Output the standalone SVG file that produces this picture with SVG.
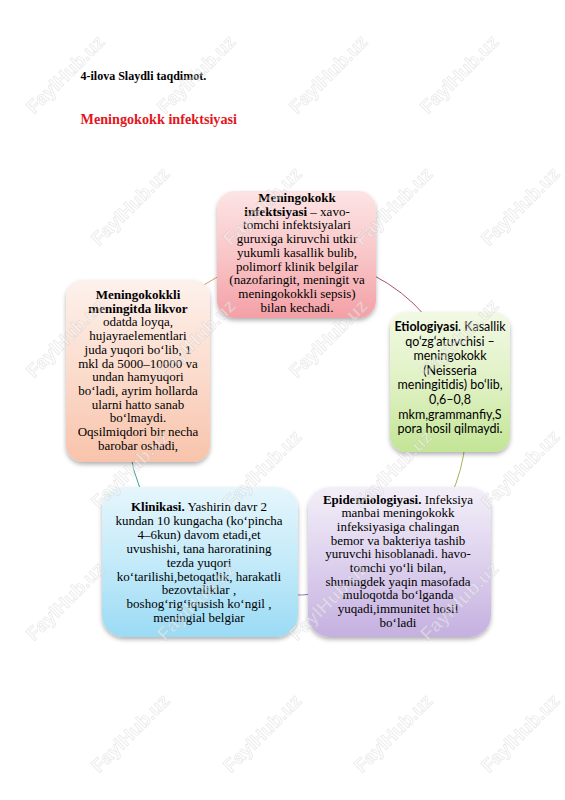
<svg xmlns="http://www.w3.org/2000/svg" width="565" height="800" viewBox="0 0 565 800">
<defs>
<linearGradient id="gPink" x1="0" y1="0" x2="0" y2="1"><stop offset="0" stop-color="#fde4e4"/><stop offset="0.5" stop-color="#f9c6c8"/><stop offset="1" stop-color="#f3a0a6"/></linearGradient>
<linearGradient id="gGreen" x1="0" y1="0" x2="0" y2="1"><stop offset="0" stop-color="#f2f9e4"/><stop offset="0.5" stop-color="#e0f1c4"/><stop offset="1" stop-color="#c3e596"/></linearGradient>
<linearGradient id="gPeach" x1="0" y1="0" x2="0" y2="1"><stop offset="0" stop-color="#fdf1ec"/><stop offset="0.5" stop-color="#fbdccd"/><stop offset="1" stop-color="#f8c3ab"/></linearGradient>
<linearGradient id="gBlue" x1="0" y1="0" x2="0" y2="1"><stop offset="0" stop-color="#e6f6fc"/><stop offset="0.5" stop-color="#c4eaf9"/><stop offset="1" stop-color="#9bdbf5"/></linearGradient>
<linearGradient id="gPurple" x1="0" y1="0" x2="0" y2="1"><stop offset="0" stop-color="#f3eff8"/><stop offset="0.5" stop-color="#ddd1ee"/><stop offset="1" stop-color="#c5b0e0"/></linearGradient>
<filter id="sh" x="-10%" y="-10%" width="120%" height="125%"><feDropShadow dx="0" dy="2.5" stdDeviation="2" flood-color="#000" flood-opacity="0.3"/></filter>
</defs>
<style>
.serif{font-family:"Liberation Serif","Times New Roman",serif;font-size:13px;fill:#000;text-anchor:middle}
.sans{font-family:Lato,"Noto Sans",sans-serif;font-size:12.5px;fill:#000;text-anchor:middle}
.b{font-weight:bold}
.box{filter:url(#sh)}
.conn{fill:none;stroke-width:1}
.wm{font-family:"Liberation Sans",Arial,sans-serif;font-weight:bold;font-size:19px;fill:#fafafa;stroke:#c4c4c4;stroke-width:0.7;text-anchor:middle}
</style>
<rect width="565" height="800" fill="#fff"/>
<text x="80.5" y="79.5" font-family="Liberation Serif, serif" font-weight="bold" font-size="12">4-ilova Slaydli taqdimot.</text>
<text x="80.5" y="123.5" font-family="Liberation Serif, serif" font-weight="bold" font-size="14.2" fill="#e3161e">Meningokokk infektsiyasi</text>
<g id="connectors">
<path class="conn" stroke="#b0506a" d="M326.3,259.6 A169,169 0 0 1 435.4,329.1"/>
<path class="conn" stroke="#a9b25a" d="M465.4,440.7 A169,169 0 0 1 450.2,497.4"/>
<path class="conn" stroke="#8c7cb6" d="M320.5,593.4 A169,169 0 0 1 282.3,594.4"/>
<path class="conn" stroke="#3f9fa6" d="M140.3,489.3 A169,169 0 0 1 129.6,449.5"/>
<path class="conn" stroke="#dc9a6a" d="M177.5,306.5 A169,169 0 0 1 233.7,269.3"/>
</g>
<g id="node-infeksiya">
<rect class="box" x="217" y="191" width="159" height="127" rx="18" fill="url(#gPink)"/>
<text class="serif"><tspan x="297" y="202" class="b">Meningokokk</tspan><tspan x="297" y="215.7"><tspan class="b">infektsiyasi</tspan> – xavo-</tspan><tspan x="297" y="229.4">tomchi infektsiyalari</tspan><tspan x="297" y="243.1">guruxiga kiruvchi utkir</tspan><tspan x="297" y="256.8">yukumli kasallik bulib,</tspan><tspan x="297" y="270.5">polimorf klinik belgilar</tspan><tspan x="297" y="284.2">(nazofaringit, meningit va</tspan><tspan x="297" y="297.9">meningokokkli sepsis)</tspan><tspan x="297" y="311.6">bilan kechadi.</tspan></text>
</g>
<g id="node-etiologiya">
<rect class="box" x="390" y="312" width="120" height="140" rx="16" fill="url(#gGreen)"/>
<text class="sans"><tspan x="450" y="331"><tspan class="b">Etiologiyasi</tspan>. Kasallik</tspan><tspan x="450" y="345.6">qo‘zg‘atuvchisi –</tspan><tspan x="450" y="360.2">meningokokk</tspan><tspan x="450" y="374.8">(Neisseria</tspan><tspan x="450" y="389.4">meningitidis) bo‘lib,</tspan><tspan x="450" y="404">0,6–0,8</tspan><tspan x="450" y="418.6">mkm,grammanfiy,S</tspan><tspan x="450" y="433.2">pora hosil qilmaydi.</tspan></text>
</g>
<g id="node-epidemiologiya">
<rect class="box" x="308" y="487" width="183" height="150" rx="22" fill="url(#gPurple)"/>
<text class="serif"><tspan x="398" y="503.5"><tspan class="b">Epidemiologiyasi.</tspan> Infeksiya</tspan><tspan x="398" y="517.2">manbai meningokokk</tspan><tspan x="398" y="530.9">infeksiyasiga chalingan</tspan><tspan x="398" y="544.6">bemor va bakteriya tashib</tspan><tspan x="398" y="558.3">yuruvchi hisoblanadi. havo-</tspan><tspan x="398" y="572">tomchi yo‘li bilan,</tspan><tspan x="398" y="585.7">shuningdek yaqin masofada</tspan><tspan x="398" y="599.4">muloqotda bo‘lganda</tspan><tspan x="398" y="613.1">yuqadi,immunitet hosil</tspan><tspan x="398" y="626.8">bo‘ladi</tspan></text>
</g>
<g id="node-klinika">
<rect class="box" x="102" y="487" width="196" height="150" rx="22" fill="url(#gBlue)"/>
<text class="serif"><tspan x="199" y="511"><tspan class="b">Klinikasi.</tspan> Yashirin davr 2</tspan><tspan x="199" y="524.9">kundan 10 kungacha (ko‘pincha</tspan><tspan x="199" y="538.8">4–6kun) davom etadi,et</tspan><tspan x="199" y="552.7">uvushishi, tana haroratining</tspan><tspan x="199" y="566.6">tezda yuqori</tspan><tspan x="199" y="580.5">ko‘tarilishi,betoqatlik, harakatli</tspan><tspan x="199" y="594.4">bezovtaliklar ,</tspan><tspan x="199" y="608.3">boshog‘rig‘iqusish ko‘ngil ,</tspan><tspan x="199" y="622.2">meningial belgiar</tspan></text>
</g>
<g id="node-likvor">
<rect class="box" x="66" y="280" width="144" height="182" rx="17" fill="url(#gPeach)"/>
<text class="serif"><tspan x="138" y="299" class="b">Meningokokkli</tspan><tspan x="138" y="312.7" class="b">meningitda likvor</tspan><tspan x="138" y="326.4">odatda loyqa,</tspan><tspan x="138" y="340.1">hujayraelementlari</tspan><tspan x="138" y="353.8">juda yuqori bo‘lib, 1</tspan><tspan x="138" y="367.5">mkl da 5000–10000 va</tspan><tspan x="138" y="381.2">undan hamyuqori</tspan><tspan x="138" y="394.9">bo‘ladi, ayrim hollarda</tspan><tspan x="138" y="408.6">ularni hatto sanab</tspan><tspan x="138" y="422.3">bo‘lmaydi.</tspan><tspan x="138" y="436">Oqsilmiqdori bir necha</tspan><tspan x="138" y="449.7">barobar oshadi,</tspan></text>
</g>
<g id="watermarks" opacity="0.4">
<text class="wm" x="65" y="81" transform="rotate(-45 65 74)">FaylHub.uz</text>
<text class="wm" x="196" y="81" transform="rotate(-45 196 74)">FaylHub.uz</text>
<text class="wm" x="328" y="81" transform="rotate(-45 328 74)">FaylHub.uz</text>
<text class="wm" x="459" y="81" transform="rotate(-45 459 74)">FaylHub.uz</text>
<text class="wm" x="130" y="213" transform="rotate(-45 130 206)">FaylHub.uz</text>
<text class="wm" x="262" y="213" transform="rotate(-45 262 206)">FaylHub.uz</text>
<text class="wm" x="393" y="213" transform="rotate(-45 393 206)">FaylHub.uz</text>
<text class="wm" x="520" y="213" transform="rotate(-45 520 206)">FaylHub.uz</text>
<text class="wm" x="65" y="345" transform="rotate(-45 65 338)">FaylHub.uz</text>
<text class="wm" x="196" y="345" transform="rotate(-45 196 338)">FaylHub.uz</text>
<text class="wm" x="328" y="345" transform="rotate(-45 328 338)">FaylHub.uz</text>
<text class="wm" x="459" y="345" transform="rotate(-45 459 338)">FaylHub.uz</text>
<text class="wm" x="130" y="476" transform="rotate(-45 130 469)">FaylHub.uz</text>
<text class="wm" x="262" y="476" transform="rotate(-45 262 469)">FaylHub.uz</text>
<text class="wm" x="393" y="476" transform="rotate(-45 393 469)">FaylHub.uz</text>
<text class="wm" x="520" y="476" transform="rotate(-45 520 469)">FaylHub.uz</text>
<text class="wm" x="65" y="608" transform="rotate(-45 65 601)">FaylHub.uz</text>
<text class="wm" x="196" y="608" transform="rotate(-45 196 601)">FaylHub.uz</text>
<text class="wm" x="328" y="608" transform="rotate(-45 328 601)">FaylHub.uz</text>
<text class="wm" x="459" y="608" transform="rotate(-45 459 601)">FaylHub.uz</text>
<text class="wm" x="130" y="740" transform="rotate(-45 130 733)">FaylHub.uz</text>
<text class="wm" x="262" y="740" transform="rotate(-45 262 733)">FaylHub.uz</text>
<text class="wm" x="393" y="740" transform="rotate(-45 393 733)">FaylHub.uz</text>
<text class="wm" x="520" y="740" transform="rotate(-45 520 733)">FaylHub.uz</text>
</g>
</svg>
